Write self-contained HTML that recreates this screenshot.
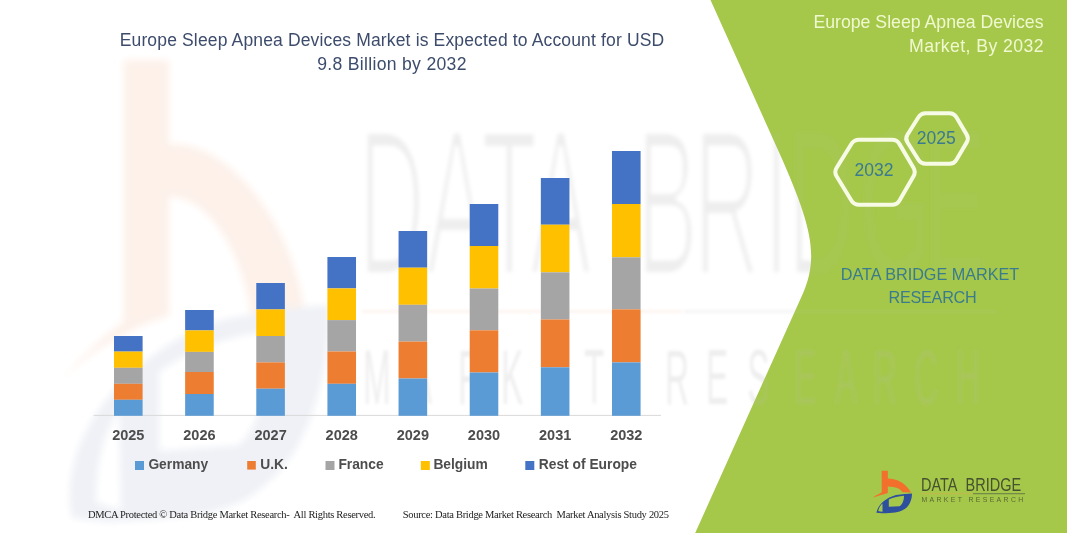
<!DOCTYPE html>
<html><head><meta charset="utf-8">
<style>
html,body{margin:0;padding:0;background:#fff;}
#root{position:relative;width:1067px;height:533px;overflow:hidden;background:#fff;font-family:"Liberation Sans",sans-serif;}
.abs{position:absolute;white-space:pre;}
svg{position:absolute;left:0;top:0;}
</style></head><body><div id="root">
<svg width="1067" height="533" viewBox="0 0 1067 533">
  <defs><clipPath id="gc"><path d="M710.5,0 L778,150 C812.2,226 819.35,257 802.25,295 L695.2,533 L1067,533 L1067,0 Z"/></clipPath><filter id="bl" x="-10%" y="-10%" width="120%" height="120%"><feGaussianBlur stdDeviation="1.5"/></filter><filter id="bl3" x="-10%" y="-10%" width="120%" height="120%"><feGaussianBlur stdDeviation="3"/></filter><filter id="er" x="-10%" y="-10%" width="120%" height="120%"><feMorphology operator="erode" radius="2"/><feGaussianBlur stdDeviation="1.5"/></filter></defs>
  <g filter="url(#bl)">
  <!-- watermark big b -->
  <g filter="url(#bl3)">
  <path d="M123.5,60 L169,60 L169,144 C227,140 292,220 305,312 L252,325 C248,270 216,197 169,197 L169,316 C128,328 88,352 57,385 C84,354 106,334 123.5,322 Z" fill="#FDF1EA"/>
  <path fill-rule="evenodd" fill="#EFF1F6" d="M72,518 C58,445 115,362 212.3,322.4 C256.4,311.5 300.6,307.2 330.0,305.0 C330.0,376.9 307.9,453.2 263.8,485.9 C234.3,513.2 190.2,518.6 109.2,521.9 Z M159.3,371.5 C190.2,349.7 234.3,333.3 271.1,331.2 C271.1,387.8 256.4,431.4 238.0,445.6 L159.3,451.1 Z M96,502 C96,462 104,432 119,410 L121,510 C110,507 102,505 96,502 Z"/>
  </g>
  <!-- watermark text (white area) -->
  <g font-family="Liberation Sans" fill="#000" fill-opacity="0.065">
    <g filter="url(#er)"><g font-size="206" transform="scale(0.45,1)"><text x="796.4" y="274">D</text><text x="946.3" y="274">A</text><text x="1068.8" y="274">T</text><text x="1177.4" y="274">A</text><text x="1414.2" y="274">B</text><text x="1540.9" y="274">R</text><text x="1696.6" y="274">I</text><text x="1749.8" y="274">D</text><text x="1909.7" y="274">G</text><text x="2054.2" y="274">E</text></g></g>
    <g font-size="78" transform="scale(0.42,1)"><text x="865.0" y="404">M</text><text x="976.0" y="404">A</text><text x="1091.2" y="404">R</text><text x="1193.6" y="404">K</text><text x="1298.4" y="404">E</text><text x="1391.1" y="404">T</text><text x="1584.1" y="404">R</text><text x="1681.7" y="404">E</text><text x="1779.8" y="404">S</text><text x="1891.2" y="404">E</text><text x="1987.9" y="404">A</text><text x="2079.3" y="404">R</text><text x="2177.0" y="404">C</text><text x="2276.9" y="404">H</text></g>
  </g>
  <rect x="362" y="310" width="320" height="3" fill="#FDF5F0"/>
  <rect x="682" y="310" width="315" height="3" fill="#000" fill-opacity="0.04"/>
  </g>
  <!-- green panel -->
  <path d="M710.5,0 L778,150 C812.2,226 819.35,257 802.25,295 L695.2,533 L1067,533 L1067,0 Z" fill="#A5C84A"/>
  <g clip-path="url(#gc)">
    <g font-family="Liberation Sans" fill="rgb(190,190,190)" filter="url(#bl)">
      <g fill-opacity="0.06"><g font-size="206" transform="scale(0.45,1)"><text x="796.4" y="274">D</text><text x="946.3" y="274">A</text><text x="1068.8" y="274">T</text><text x="1177.4" y="274">A</text><text x="1414.2" y="274">B</text><text x="1540.9" y="274">R</text><text x="1696.6" y="274">I</text><text x="1749.8" y="274">D</text><text x="1909.7" y="274">G</text><text x="2054.2" y="274">E</text></g></g>
      <g font-size="78" fill-opacity="0.15" transform="scale(0.42,1)"><text x="865.0" y="404">M</text><text x="976.0" y="404">A</text><text x="1091.2" y="404">R</text><text x="1193.6" y="404">K</text><text x="1298.4" y="404">E</text><text x="1391.1" y="404">T</text><text x="1584.1" y="404">R</text><text x="1681.7" y="404">E</text><text x="1779.8" y="404">S</text><text x="1891.2" y="404">E</text><text x="1987.9" y="404">A</text><text x="2079.3" y="404">R</text><text x="2177.0" y="404">C</text><text x="2276.9" y="404">H</text></g>
    </g>
    <rect x="682" y="310" width="315" height="3" fill="rgb(190,190,190)" fill-opacity="0.1" filter="url(#bl)"/>
  </g>
  <!-- axis -->
  <line x1="93.6" y1="415.4" x2="661" y2="415.4" stroke="#D9D9D9" stroke-width="1"/>
  <rect x="114.00" y="336" width="28.6" height="15.60" fill="#4472C4"/><rect x="114.00" y="351.6" width="28.6" height="16.20" fill="#FFC000"/><rect x="114.00" y="367.8" width="28.6" height="16.00" fill="#A5A5A5"/><rect x="114.00" y="383.8" width="28.6" height="16.00" fill="#ED7D31"/><rect x="114.00" y="399.8" width="28.6" height="16.00" fill="#5B9BD5"/><rect x="185.14" y="310" width="28.6" height="20.40" fill="#4472C4"/><rect x="185.14" y="330.4" width="28.6" height="21.50" fill="#FFC000"/><rect x="185.14" y="351.9" width="28.6" height="20.10" fill="#A5A5A5"/><rect x="185.14" y="372" width="28.6" height="22.00" fill="#ED7D31"/><rect x="185.14" y="394" width="28.6" height="21.80" fill="#5B9BD5"/><rect x="256.28" y="283" width="28.6" height="26.40" fill="#4472C4"/><rect x="256.28" y="309.4" width="28.6" height="26.60" fill="#FFC000"/><rect x="256.28" y="336" width="28.6" height="26.40" fill="#A5A5A5"/><rect x="256.28" y="362.4" width="28.6" height="26.30" fill="#ED7D31"/><rect x="256.28" y="388.7" width="28.6" height="27.10" fill="#5B9BD5"/><rect x="327.42" y="257" width="28.6" height="31.40" fill="#4472C4"/><rect x="327.42" y="288.4" width="28.6" height="31.70" fill="#FFC000"/><rect x="327.42" y="320.1" width="28.6" height="31.40" fill="#A5A5A5"/><rect x="327.42" y="351.5" width="28.6" height="32.30" fill="#ED7D31"/><rect x="327.42" y="383.8" width="28.6" height="32.00" fill="#5B9BD5"/><rect x="398.56" y="231" width="28.6" height="36.70" fill="#4472C4"/><rect x="398.56" y="267.7" width="28.6" height="37.10" fill="#FFC000"/><rect x="398.56" y="304.8" width="28.6" height="36.80" fill="#A5A5A5"/><rect x="398.56" y="341.6" width="28.6" height="36.90" fill="#ED7D31"/><rect x="398.56" y="378.5" width="28.6" height="37.30" fill="#5B9BD5"/><rect x="469.70" y="204" width="28.6" height="42.00" fill="#4472C4"/><rect x="469.70" y="246" width="28.6" height="42.50" fill="#FFC000"/><rect x="469.70" y="288.5" width="28.6" height="41.80" fill="#A5A5A5"/><rect x="469.70" y="330.3" width="28.6" height="42.20" fill="#ED7D31"/><rect x="469.70" y="372.5" width="28.6" height="43.30" fill="#5B9BD5"/><rect x="540.84" y="178" width="28.6" height="46.70" fill="#4472C4"/><rect x="540.84" y="224.7" width="28.6" height="47.60" fill="#FFC000"/><rect x="540.84" y="272.3" width="28.6" height="47.20" fill="#A5A5A5"/><rect x="540.84" y="319.5" width="28.6" height="47.80" fill="#ED7D31"/><rect x="540.84" y="367.3" width="28.6" height="48.50" fill="#5B9BD5"/><rect x="611.98" y="151" width="28.6" height="53.00" fill="#4472C4"/><rect x="611.98" y="204" width="28.6" height="53.30" fill="#FFC000"/><rect x="611.98" y="257.3" width="28.6" height="52.10" fill="#A5A5A5"/><rect x="611.98" y="309.4" width="28.6" height="53.00" fill="#ED7D31"/><rect x="611.98" y="362.4" width="28.6" height="53.40" fill="#5B9BD5"/>
  <g font-family="Liberation Sans" font-weight="bold" font-size="14.5" fill="#4D4D4D">
  <text x="128.30" y="439.7" text-anchor="middle">2025</text><text x="199.44" y="439.7" text-anchor="middle">2026</text><text x="270.58" y="439.7" text-anchor="middle">2027</text><text x="341.72" y="439.7" text-anchor="middle">2028</text><text x="412.86" y="439.7" text-anchor="middle">2029</text><text x="484.00" y="439.7" text-anchor="middle">2030</text><text x="555.14" y="439.7" text-anchor="middle">2031</text><text x="626.28" y="439.7" text-anchor="middle">2032</text>
  </g>
  <!-- legend -->
  <g font-family="Liberation Sans" font-weight="bold" font-size="13.8" fill="#4D4D4D">
    <rect x="135" y="461" width="9" height="9" fill="#5B9BD5"/><text x="148.4" y="468.5">Germany</text>
    <rect x="247.2" y="461" width="8.6" height="8.6" fill="#ED7D31"/><text x="260.2" y="468.5">U.K.</text>
    <rect x="325.5" y="461" width="9" height="9" fill="#A5A5A5"/><text x="338.4" y="468.5">France</text>
    <rect x="420.8" y="461" width="9" height="9" fill="#FFC000"/><text x="433.4" y="468.5">Belgium</text>
    <rect x="525.3" y="461" width="9" height="9" fill="#4472C4"/><text x="538.8" y="468.5">Rest of Europe</text>
  </g>
  <!-- hexagons -->
  <g fill="none" stroke="#F7FBE6" stroke-width="4" stroke-linejoin="round">
    <path d="M836.64,167.75 L851.36,144.05 Q854.00,139.80 859.00,139.80 L892.00,139.80 Q897.00,139.80 899.54,144.11 L913.46,167.69 Q916.00,172.00 913.49,176.33 L899.51,200.47 Q897.00,204.80 892.00,204.80 L859.00,204.80 Q854.00,204.80 851.40,200.53 L836.60,176.27 Q834.00,172.00 836.64,167.75 Z"/>
    <path d="M907.41,134.70 L918.59,117.00 Q921.00,113.20 925.50,113.20 L949.50,113.20 Q954.00,113.20 956.29,117.07 L966.71,134.63 Q969.00,138.50 966.71,142.37 L956.29,159.93 Q954.00,163.80 949.50,163.80 L925.50,163.80 Q921.00,163.80 918.59,160.00 L907.41,142.30 Q905.00,138.50 907.41,134.70 Z"/>
  </g>
  <g font-family="Liberation Sans" font-size="17.5" fill="#3B7A8F">
    <text x="874" y="175.5" text-anchor="middle">2032</text>
    <text x="936.3" y="143.8" text-anchor="middle">2025</text>
  </g>
  <!-- logo -->
  <path d="M881.7,470.8 L887.8,470.8 L887.8,478.4 C897,478.6 906,483 911,492.6 L902.4,492.2 C900,488.5 896,486.8 887.8,486.6 L887.8,493 C883,494.5 877,496 873,497.5 C876,495 880,493.5 881.7,492 Z" fill="#F26F2C"/>
  <path fill-rule="evenodd" fill="#2E4E9E" d="M876.4,512.8 C878,505 885,498 896,495 C902,494 908,493.6 912,493.4 C912,500 909,507 903,510 C899,512.5 893,513 882,513.3 Z M888.8,499.5 C893,497.5 899,496 904,495.8 C904,501 902,505 899.5,506.3 L888.8,506.8 Z M878.2,511 C879,507.5 880.5,505 882.5,503.5 L882.5,511.8 C881,511.6 879.5,511.3 878.2,511 Z"/>
  <g font-family="Liberation Sans" fill="#46512F">
    <text font-size="17.7" transform="translate(921,490.6) scale(0.82,1)">DATA</text>
    <text font-size="17.7" transform="translate(965.5,490.6) scale(0.82,1)">BRIDGE</text>
    <text x="921.5" y="502.3" font-size="6.9" letter-spacing="2.35" fill-opacity="0.8">MARKET  RESEARCH</text>
  </g>
  <rect x="921" y="493.3" width="52" height="0.9" fill="#C9B54A"/>
  <rect x="973" y="493.3" width="52" height="0.9" fill="#5F6F48"/>
</svg>
<div class="abs" style="left:0;width:784px;top:28px;text-align:center;font-size:17.5px;letter-spacing:0.15px;line-height:24px;color:#3D4C6C;">Europe Sleep Apnea Devices Market is Expected to Account for USD</div>
<div class="abs" style="left:0;width:784px;top:52px;text-align:center;font-size:17.6px;letter-spacing:0.3px;line-height:24px;color:#3D4C6C;">9.8 Billion by 2032</div>
<div class="abs" style="right:23.5px;top:10px;text-align:right;font-size:17.7px;line-height:24px;color:#F0F8D0;">Europe Sleep Apnea Devices</div>
<div class="abs" style="right:23.1px;top:34px;text-align:right;font-size:17.7px;letter-spacing:0.4px;line-height:24px;color:#F0F8D0;">Market, By 2032</div>
<div class="abs" style="left:830px;width:200px;top:263px;text-align:center;font-size:16.2px;line-height:23.4px;color:#3A7B8E;">DATA BRIDGE MARKET</div>
<div class="abs" style="left:832.5px;width:200px;top:286.4px;text-align:center;font-size:16.2px;letter-spacing:-0.25px;line-height:23.4px;color:#3A7B8E;">RESEARCH</div>
<div class="abs" style="left:88px;top:509px;font-family:'Liberation Serif',serif;font-size:10.5px;letter-spacing:-0.3px;color:#222;">DMCA Protected © Data Bridge Market Research-  All Rights Reserved.</div>
<div class="abs" style="left:402.7px;top:509px;font-family:'Liberation Serif',serif;font-size:10.5px;letter-spacing:-0.3px;color:#222;">Source: Data Bridge Market Research  Market Analysis Study 2025</div>
</div></body></html>
